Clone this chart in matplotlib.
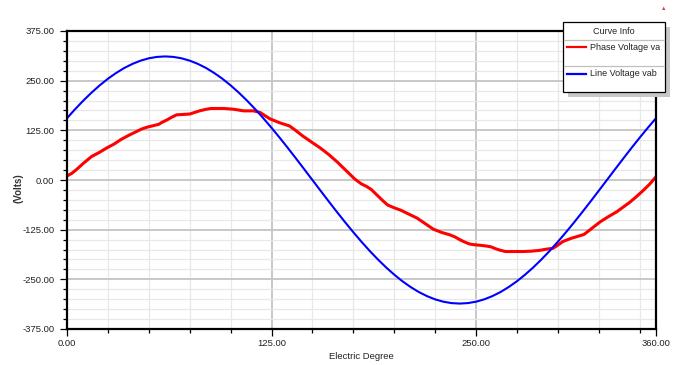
import matplotlib
matplotlib.use("Agg")
import matplotlib.pyplot as plt
from matplotlib.ticker import FixedLocator, MultipleLocator
from matplotlib.patches import Rectangle
from matplotlib.lines import Line2D

plt.rcParams['font.family'] = ['Liberation Sans', 'DejaVu Sans']

# ---- data ----
line_deg = [0, 5, 10, 15, 20, 25, 30, 35, 40, 45, 50, 55, 60, 65, 70, 75, 80, 85, 90,
            95, 100, 105, 110, 115, 120, 125, 130, 135, 140, 145, 150, 155, 160, 165,
            170, 175, 180, 185, 190, 195, 200, 205, 210, 215, 220, 225, 230, 235, 240,
            245, 250, 255, 260, 265, 270, 275, 280, 285, 290, 295, 300, 305, 310, 315,
            320, 325, 330, 335, 340, 345, 350, 355, 360]
line_vab = [155.5, 178.4, 199.9, 219.9, 238.2, 254.8, 269.3, 281.9, 292.2, 300.4,
            306.3, 309.8, 311.0, 309.8, 306.3, 300.4, 292.2, 281.9, 269.3, 254.8,
            238.2, 219.9, 199.9, 178.4, 155.5, 131.4, 106.4, 80.5, 54.0, 27.1, 0.0,
            -27.1, -54.0, -80.5, -106.4, -131.4, -155.5, -178.4, -199.9, -219.9,
            -238.2, -254.8, -269.3, -281.9, -292.2, -300.4, -306.3, -309.8, -311.0,
            -309.8, -306.3, -300.4, -292.2, -281.9, -269.3, -254.8, -238.2, -219.9,
            -199.9, -178.4, -155.5, -131.4, -106.4, -80.5, -54.0, -27.1, 0.0, 27.1,
            54.0, 80.5, 106.4, 131.4, 155.5]

phase_deg = [0, 3, 6, 10, 15, 20, 24, 29, 33, 38, 43, 46, 49, 53, 56, 58, 61, 64, 67,
             71, 75, 78, 81, 85, 88, 92, 96, 99, 102, 105, 108, 111, 114, 118, 121,
             124, 127, 130, 133, 136, 140, 144, 150, 155, 160, 165, 170, 176, 180,
             183, 186, 189, 193, 196, 200, 204, 209, 214, 219, 224, 229, 234, 237,
             240, 243, 246, 249, 252, 256, 259, 262, 265, 268, 273, 279, 284, 289,
             293, 297, 300, 303, 308, 312, 316, 321, 326, 331, 336, 340, 344, 348,
             352, 356, 360]
phase_va = [10, 17, 27, 42, 59, 70, 80, 91, 102, 113, 123, 129, 133, 137, 140, 145,
            151, 158, 164, 165, 166, 170, 174, 178, 180, 180, 180, 179, 178, 176,
            174, 174, 174, 170, 162, 154, 149, 144, 140, 136, 124, 111, 94, 80, 64,
            46, 26, 2, -10, -16, -24, -36, -52, -63, -70, -76, -86, -96, -110, -124,
            -132, -138, -143, -150, -156, -161, -163, -164, -166, -168, -173, -177,
            -180, -180, -180, -179, -177, -174, -172, -164, -155, -147, -142, -137,
            -121, -105, -92, -80, -68, -56, -42, -27, -11, 8]

x_major = [0, 125, 250, 360]
x_labels = ['0.00', '125.00', '250.00', '360.00']
y_major = [-375, -250, -125, 0, 125, 250, 375]
y_labels = ['-375.00', '-250.00', '-125.00', '0.00', '125.00', '250.00', '375.00']

series_names = ['Phase Voltage va', 'Line Voltage vab']
series_colors = ['#ff0000', '#0000ff']

W, H = 684, 365
fig = plt.figure(figsize=(W / 100, H / 100), dpi=100)
fig.patch.set_facecolor('white')


def fx(px):
    return px / W


def fy(py):
    return 1 - py / H


ax = fig.add_axes([fx(67), fy(329), fx(656) - fx(67), fy(31) - fy(329)])
ax.set_xlim(0, 360)
ax.set_ylim(-375, 375)

ax.xaxis.set_major_locator(FixedLocator(x_major))
ax.set_xticklabels(x_labels)
ax.xaxis.set_minor_locator(MultipleLocator(25))
ax.yaxis.set_major_locator(FixedLocator(y_major))
ax.set_yticklabels(y_labels)
ax.yaxis.set_minor_locator(MultipleLocator(25))

ax.grid(which='minor', color='#e8e8e8', linewidth=0.9)
ax.grid(which='major', color='#c4c4c4', linewidth=1.3)
ax.set_axisbelow(True)

ax.tick_params(which='major', direction='out', length=5, width=0.9, color='black',
               labelsize=6.8, labelcolor='#222222')
ax.tick_params(which='minor', direction='out', length=2.8, width=0.9, color='black')
ax.tick_params(axis='x', which='major', pad=2.5)
ax.tick_params(axis='y', which='major', pad=4)
for sp in ax.spines.values():
    sp.set_linewidth(1.6)
    sp.set_color('black')

ax.plot(phase_deg, phase_va, color=series_colors[0], linewidth=2.2, solid_capstyle='round')
ax.plot(line_deg, line_vab, color=series_colors[1], linewidth=1.5)

ax.set_xlabel('Electric Degree', fontsize=6.8, color='#222222', labelpad=2.5)
fig.text(fx(18), fy(188), '(Volts)', rotation=90, fontsize=7, fontweight='bold',
         color='#333333', ha='center', va='center')

# ---- "Curve Info" legend box ----
bx0, by0, bx1, by1 = 563, 22, 665, 92
fig.patches.append(Rectangle((fx(bx0 + 5), fy(by1 + 5)), fx(bx1 - bx0), fy(by0) - fy(by1),
                             transform=fig.transFigure, facecolor='#c8c8c8',
                             edgecolor='none', zorder=10))
fig.patches.append(Rectangle((fx(bx0), fy(by1)), fx(bx1 - bx0), fy(by0) - fy(by1),
                             transform=fig.transFigure, facecolor='white',
                             edgecolor='black', linewidth=0.9, zorder=11))
fig.text(fx((bx0 + bx1) / 2), fy(31), 'Curve Info', fontsize=6.5, color='#222222',
         ha='center', va='center', zorder=12)
for sy in (39.5, 65.5):
    fig.lines.append(Line2D([fx(bx0 + 1), fx(bx1 - 1)], [fy(sy), fy(sy)],
                            transform=fig.transFigure, color='#c0c0c0',
                            linewidth=0.9, zorder=12))
for name, col, ey in zip(series_names, series_colors, (47, 74)):
    fig.lines.append(Line2D([fx(567), fx(586)], [fy(ey), fy(ey)],
                            transform=fig.transFigure, color=col, linewidth=1.6, zorder=12))
    fig.text(fx(590), fy(ey), name, fontsize=6.5, color='#222222', ha='left',
             va='center', zorder=12)

# small warning icon in the top-right corner
fig.text(fx(664), fy(8), '\u25b2', fontsize=4, color='#d04040', ha='center', va='center')

fig.savefig('out.png', dpi=100)
